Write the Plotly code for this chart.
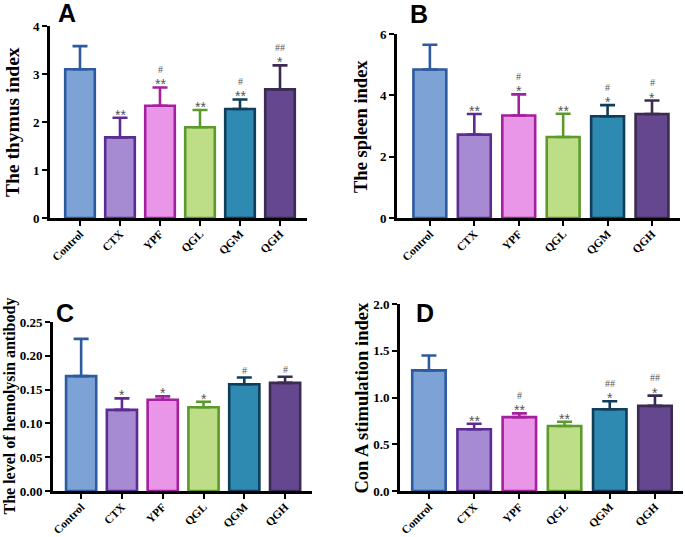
import plotly.graph_objects as go

categories = ["Control", "CTX", "YPF", "QGL", "QGM", "QGH"]

thymus_mean = [3.10, 1.68, 2.34, 1.89, 2.27, 2.68]
thymus_sd = [0.48, 0.41, 0.38, 0.36, 0.20, 0.50]
thymus_star = ["", "**", "**", "**", "**", "*"]
thymus_hash = ["", "", "#", "", "#", "##"]

spleen_mean = [4.84, 2.72, 3.34, 2.64, 3.32, 3.39]
spleen_sd = [0.81, 0.67, 0.69, 0.76, 0.36, 0.44]
spleen_star = ["", "**", "*", "**", "*", "*"]
spleen_hash = ["", "", "#", "", "#", "#"]

hemo_mean = [0.170, 0.120, 0.135, 0.124, 0.158, 0.160]
hemo_sd = [0.055, 0.017, 0.005, 0.008, 0.010, 0.009]
hemo_star = ["", "*", "*", "*", "", ""]
hemo_hash = ["", "", "", "", "#", "#"]

cona_mean = [1.29, 0.66, 0.79, 0.695, 0.875, 0.91]
cona_sd = [0.16, 0.06, 0.04, 0.045, 0.085, 0.11]
cona_star = ["", "**", "**", "**", "*", "*"]
cona_hash = ["", "", "#", "", "##", "##"]

fill_colors = ["#7DA2D6", "#A68AD2", "#EA96E8", "#BDDE87", "#2E8AB0", "#65478F"]
line_colors = ["#2D5B9F", "#5B2D93", "#A4209E", "#5C9A2C", "#0F3D5A", "#3B2B52"]

W, H = 685, 537
SERIF = "Liberation Serif"

panels = [
    dict(letter="A", title="The thymus index", mean=thymus_mean, sd=thymus_sd,
         star=thymus_star, hsh=thymus_hash, px=(50, 307), py=(26, 218),
         xr=[-0.75, 5.675], yr=[0, 4], dtick=1, fmt="d", tsize=19.5, tx=13,
         letter_xy=(67, 13)),
    dict(letter="B", title="The spleen index", mean=spleen_mean, sd=spleen_sd,
         star=spleen_star, hsh=spleen_hash, px=(397, 680), py=(34, 218),
         xr=[-0.74, 5.63], yr=[0, 6], dtick=2, fmt="d", tsize=18.5, tx=361,
         letter_xy=(419, 14)),
    dict(letter="C", title="The level of hemolysin antibody", mean=hemo_mean, sd=hemo_sd,
         star=hemo_star, hsh=hemo_hash, px=(53, 312), py=(322, 491),
         xr=[-0.69, 5.66], yr=[0, 0.25], dtick=0.05, fmt=".2f", tsize=16, tx=9,
         letter_xy=(65, 313)),
    dict(letter="D", title="Con A stimulation index", mean=cona_mean, sd=cona_sd,
         star=cona_star, hsh=cona_hash, px=(400, 683), py=(304, 491),
         xr=[-0.64, 5.62], yr=[0, 2], dtick=0.5, fmt=".1f", tsize=18.5, tx=361,
         letter_xy=(425, 313)),
]

fig = go.Figure()
annotations = []
layout = {}

for i, p in enumerate(panels):
    n = "" if i == 0 else str(i + 1)
    xa, ya = "x" + n, "y" + n
    for j, cat in enumerate(categories):
        fig.add_trace(go.Bar(
            x=[cat], y=[p["mean"][j]], xaxis=xa, yaxis=ya, width=0.74,
            marker=dict(color=fill_colors[j], line=dict(color=line_colors[j], width=2.6)),
            error_y=dict(type="data", symmetric=False, array=[p["sd"][j]], arrayminus=[0],
                         color=line_colors[j], thickness=2.6, width=7.5),
            showlegend=False, hoverinfo="skip"))
        top = p["mean"][j] + p["sd"][j]
        if p["star"][j]:
            annotations.append(dict(x=cat, y=top, xref=xa, yref=ya, text=p["star"][j],
                                    showarrow=False, yanchor="bottom", yshift=-7,
                                    font=dict(family="Liberation Sans", size=14, color="#555555")))
        if p["hsh"][j]:
            shift = 18 if p["star"][j] else 7
            annotations.append(dict(x=cat, y=top, xref=xa, yref=ya, text=p["hsh"][j],
                                    showarrow=False, yanchor="middle", yshift=shift,
                                    font=dict(family="Liberation Serif", size=10, color="#555555")))
    x0, x1 = p["px"]
    y0, y1 = p["py"]
    layout["xaxis" + n] = dict(
        domain=[x0 / W, x1 / W], anchor=ya, range=p["xr"], type="category",
        showline=True, linecolor="black", linewidth=2.6, ticks="outside", ticklen=5,
        tickwidth=2, tickcolor="black", tickangle=-45, showgrid=False, zeroline=False,
        automargin=False, ticklabelstandoff=-3,
        tickfont=dict(family=SERIF, size=11.5, color="black", weight="bold"))
    layout["yaxis" + n] = dict(
        domain=[1 - y1 / H, 1 - y0 / H], anchor=xa, range=p["yr"], dtick=p["dtick"],
        tick0=0, tickformat=p["fmt"], showline=True, linecolor="black", linewidth=2.6,
        ticks="outside", ticklen=5, tickwidth=2, tickcolor="black", showgrid=False,
        zeroline=False, automargin=False,
        tickfont=dict(family=SERIF, size=13, color="black", weight="bold"))
    annotations.append(dict(x=p["tx"] / W, y=1 - (y0 + y1) / 2 / H, xref="paper", yref="paper",
                            text=p["title"], textangle=-90, showarrow=False,
                            xanchor="center", yanchor="middle",
                            font=dict(family=SERIF, size=p["tsize"], color="black", weight="bold")))
    lx, ly = p["letter_xy"]
    annotations.append(dict(x=lx / W, y=1 - ly / H, xref="paper", yref="paper",
                            text=p["letter"], showarrow=False, xanchor="center", yanchor="middle",
                            font=dict(family="Liberation Sans", size=25, color="black", weight="bold")))

fig.update_layout(
    width=W, height=H, margin=dict(l=0, r=0, t=0, b=0),
    paper_bgcolor="white", plot_bgcolor="white", barmode="overlay",
    annotations=annotations, **layout)

fig.write_html("out.html", config={"displayModeBar": False},
               post_script="document.body.style.margin='0';document.body.style.overflow='hidden';")
